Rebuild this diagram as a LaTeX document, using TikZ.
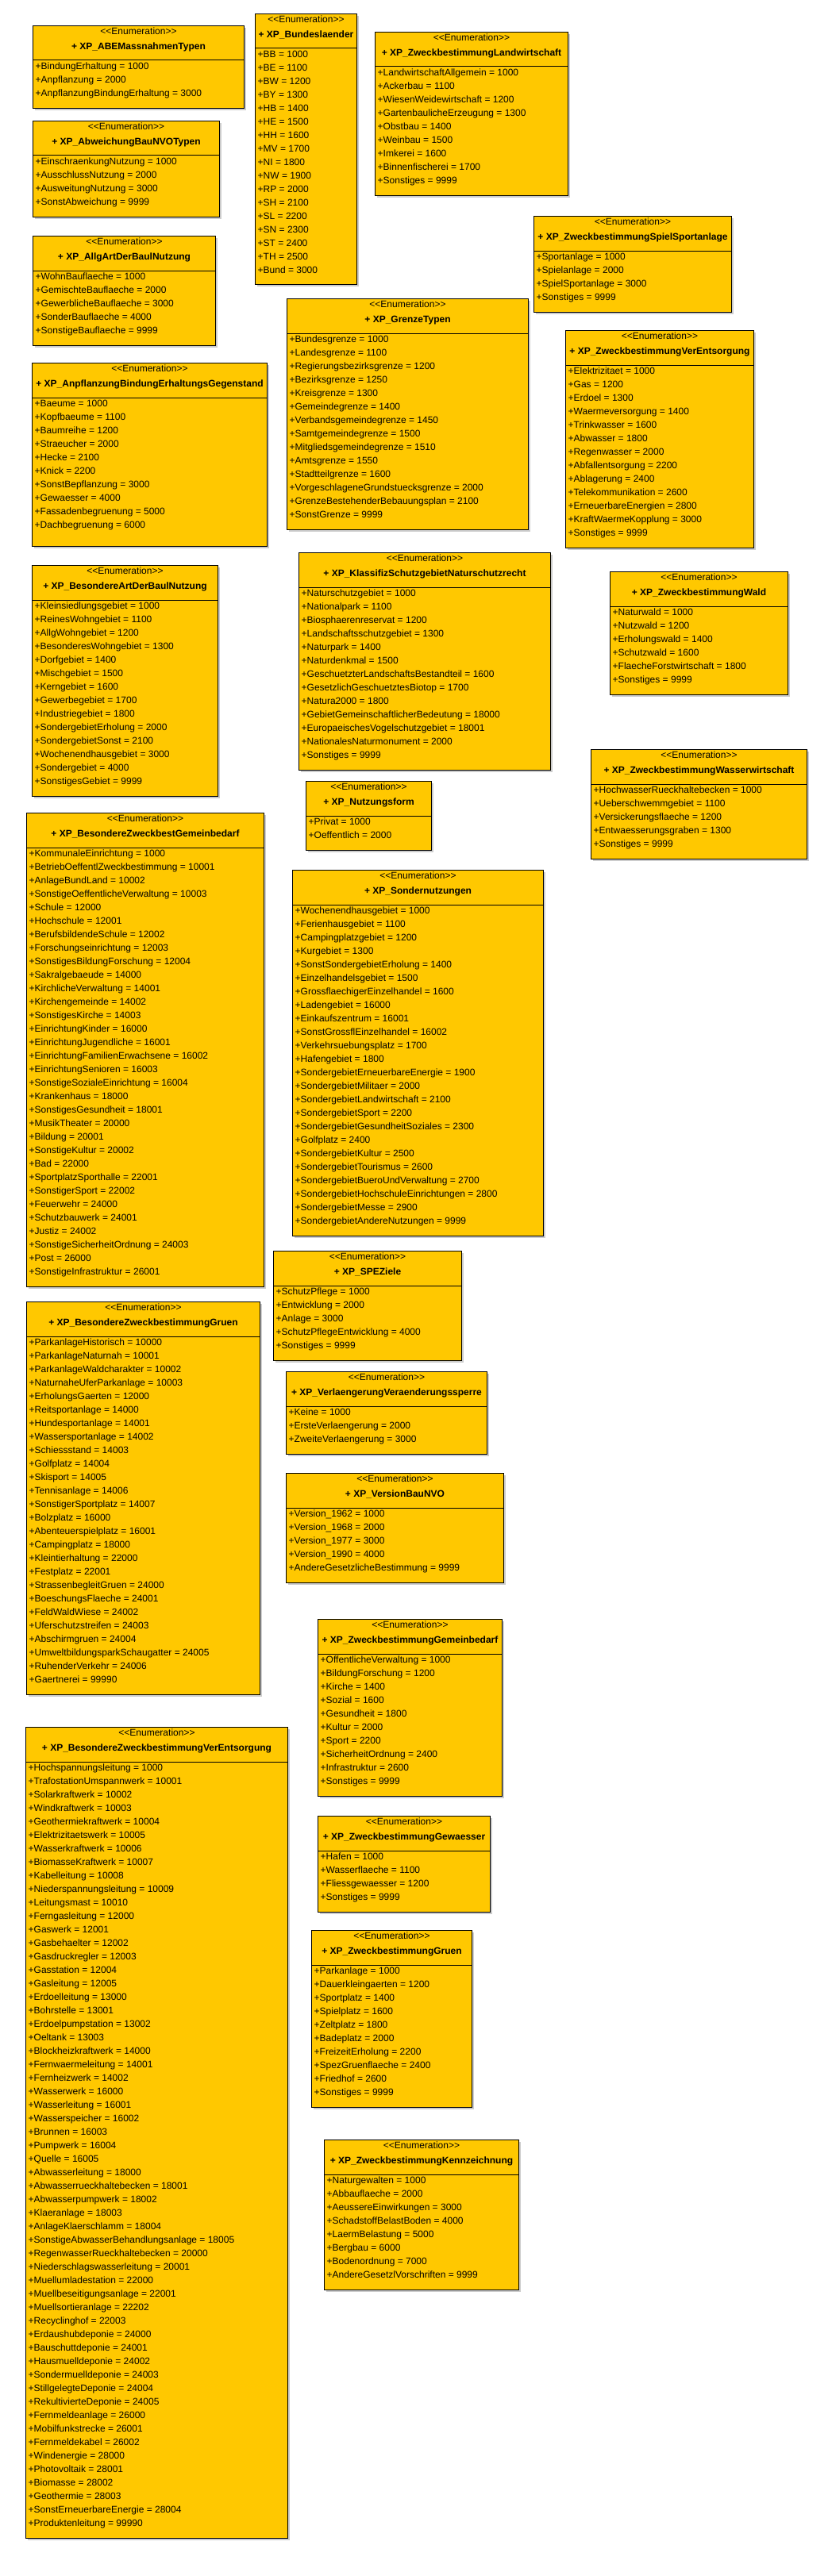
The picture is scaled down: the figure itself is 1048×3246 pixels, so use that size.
\documentclass[tikz,border=0pt]{standalone}
\usepackage{fontspec}
\setmainfont{Liberation Sans}
\usetikzlibrary{shadows}
\definecolor{enumyellow}{RGB}{255,200,0}
\tikzset{
  enumbox/.style={rectangle,draw,line width=1pt,fill=enumyellow,anchor=north west,
    drop shadow={shadow xshift=2.5pt,shadow yshift=-2.5pt,fill=black!20,opacity=1}},
  enumhead/.style={anchor=north,align=center,inner xsep=2pt,inner ysep=2.8pt,
    font=\fontsize{12}{17}\selectfont,execute at begin node=\strut},
  enumitems/.style={anchor=north west,align=left,inner xsep=3.5pt,inner ysep=2.8pt,
    font=\fontsize{12}{17}\selectfont,execute at begin node=\strut},
  enumline/.style={line width=1pt}
}
\begin{document}
\begin{tikzpicture}[x=1pt,y=-1pt]
      \useasboundingbox (0,0) rectangle (1048,3246);
      % left column
      \node[enumbox,minimum width=266,minimum height=104] (abe) at (41,32) {};
      \node[enumhead] (abe-head) at (abe.north) {{<}{<}Enumeration{>}{>}\\[2pt]\textbf{+ XP\_ABEMassnahmenTypen}};
      \node[enumitems] (abe-items) at ([yshift=-44pt]abe.north west) {+BindungErhaltung = 1000\\+Anpflanzung = 2000\\+AnpflanzungBindungErhaltung = 3000};
      \draw[enumline] (abe-items.north -| abe.west) -- (abe-items.north -| abe.east);

      \node[enumbox,minimum width=235,minimum height=121] (abweichung) at (41,152) {};
      \node[enumhead] (abweichung-head) at (abweichung.north) {{<}{<}Enumeration{>}{>}\\[2pt]\textbf{+ XP\_AbweichungBauNVOTypen}};
      \node[enumitems] (abweichung-items) at ([yshift=-44pt]abweichung.north west) {+EinschraenkungNutzung = 1000\\+AusschlussNutzung = 2000\\+AusweitungNutzung = 3000\\+SonstAbweichung = 9999};
      \draw[enumline] (abweichung-items.north -| abweichung.west) -- (abweichung-items.north -| abweichung.east);

      \node[enumbox,minimum width=230,minimum height=138] (allgart) at (41,297) {};
      \node[enumhead] (allgart-head) at (allgart.north) {{<}{<}Enumeration{>}{>}\\[2pt]\textbf{+ XP\_AllgArtDerBaulNutzung}};
      \node[enumitems] (allgart-items) at ([yshift=-44pt]allgart.north west) {+WohnBauflaeche = 1000\\+GemischteBauflaeche = 2000\\+GewerblicheBauflaeche = 3000\\+SonderBauflaeche = 4000\\+SonstigeBauflaeche = 9999};
      \draw[enumline] (allgart-items.north -| allgart.west) -- (allgart-items.north -| allgart.east);

      \node[enumbox,minimum width=296,minimum height=231] (anpflanzung) at (40,457) {};
      \node[enumhead] (anpflanzung-head) at (anpflanzung.north) {{<}{<}Enumeration{>}{>}\\[2pt]\textbf{+ XP\_AnpflanzungBindungErhaltungsGegenstand}};
      \node[enumitems] (anpflanzung-items) at ([yshift=-44pt]anpflanzung.north west) {+Baeume = 1000\\+Kopfbaeume = 1100\\+Baumreihe = 1200\\+Straeucher = 2000\\+Hecke = 2100\\+Knick = 2200\\+SonstBepflanzung = 3000\\+Gewaesser = 4000\\+Fassadenbegruenung = 5000\\+Dachbegruenung = 6000};
      \draw[enumline] (anpflanzung-items.north -| anpflanzung.west) -- (anpflanzung-items.north -| anpflanzung.east);

      \node[enumbox,minimum width=234,minimum height=291] (besart) at (40,712) {};
      \node[enumhead] (besart-head) at (besart.north) {{<}{<}Enumeration{>}{>}\\[2pt]\textbf{+ XP\_BesondereArtDerBaulNutzung}};
      \node[enumitems] (besart-items) at ([yshift=-44pt]besart.north west) {+Kleinsiedlungsgebiet = 1000\\+ReinesWohngebiet = 1100\\+AllgWohngebiet = 1200\\+BesonderesWohngebiet = 1300\\+Dorfgebiet = 1400\\+Mischgebiet = 1500\\+Kerngebiet = 1600\\+Gewerbegebiet = 1700\\+Industriegebiet = 1800\\+SondergebietErholung = 2000\\+SondergebietSonst = 2100\\+Wochenendhausgebiet = 3000\\+Sondergebiet = 4000\\+SonstigesGebiet = 9999};
      \draw[enumline] (besart-items.north -| besart.west) -- (besart-items.north -| besart.east);

      \node[enumbox,minimum width=299,minimum height=597] (gemeinbedarf) at (33,1024) {};
      \node[enumhead] (gemeinbedarf-head) at (gemeinbedarf.north) {{<}{<}Enumeration{>}{>}\\[2pt]\textbf{+ XP\_BesondereZweckbestGemeinbedarf}};
      \node[enumitems] (gemeinbedarf-items) at ([yshift=-44pt]gemeinbedarf.north west) {+KommunaleEinrichtung = 1000\\+BetriebOeffentlZweckbestimmung = 10001\\+AnlageBundLand = 10002\\+SonstigeOeffentlicheVerwaltung = 10003\\+Schule = 12000\\+Hochschule = 12001\\+BerufsbildendeSchule = 12002\\+Forschungseinrichtung = 12003\\+SonstigesBildungForschung = 12004\\+Sakralgebaeude = 14000\\+KirchlicheVerwaltung = 14001\\+Kirchengemeinde = 14002\\+SonstigesKirche = 14003\\+EinrichtungKinder = 16000\\+EinrichtungJugendliche = 16001\\+EinrichtungFamilienErwachsene = 16002\\+EinrichtungSenioren = 16003\\+SonstigeSozialeEinrichtung = 16004\\+Krankenhaus = 18000\\+SonstigesGesundheit = 18001\\+MusikTheater = 20000\\+Bildung = 20001\\+SonstigeKultur = 20002\\+Bad = 22000\\+SportplatzSporthalle = 22001\\+SonstigerSport = 22002\\+Feuerwehr = 24000\\+Schutzbauwerk = 24001\\+Justiz = 24002\\+SonstigeSicherheitOrdnung = 24003\\+Post = 26000\\+SonstigeInfrastruktur = 26001};
      \draw[enumline] (gemeinbedarf-items.north -| gemeinbedarf.west) -- (gemeinbedarf-items.north -| gemeinbedarf.east);

      \node[enumbox,minimum width=294,minimum height=495] (gruen) at (33,1640) {};
      \node[enumhead] (gruen-head) at (gruen.north) {{<}{<}Enumeration{>}{>}\\[2pt]\textbf{+ XP\_BesondereZweckbestimmungGruen}};
      \node[enumitems] (gruen-items) at ([yshift=-44pt]gruen.north west) {+ParkanlageHistorisch = 10000\\+ParkanlageNaturnah = 10001\\+ParkanlageWaldcharakter = 10002\\+NaturnaheUferParkanlage = 10003\\+ErholungsGaerten = 12000\\+Reitsportanlage = 14000\\+Hundesportanlage = 14001\\+Wassersportanlage = 14002\\+Schiessstand = 14003\\+Golfplatz = 14004\\+Skisport = 14005\\+Tennisanlage = 14006\\+SonstigerSportplatz = 14007\\+Bolzplatz = 16000\\+Abenteuerspielplatz = 16001\\+Campingplatz = 18000\\+Kleintierhaltung = 22000\\+Festplatz = 22001\\+StrassenbegleitGruen = 24000\\+BoeschungsFlaeche = 24001\\+FeldWaldWiese = 24002\\+Uferschutzstreifen = 24003\\+Abschirmgruen = 24004\\+UmweltbildungsparkSchaugatter = 24005\\+RuhenderVerkehr = 24006\\+Gaertnerei = 99990};
      \draw[enumline] (gruen-items.north -| gruen.west) -- (gruen-items.north -| gruen.east);

      \node[enumbox,minimum width=330,minimum height=1022] (verentsorgung) at (32,2176) {};
      \node[enumhead] (verentsorgung-head) at (verentsorgung.north) {{<}{<}Enumeration{>}{>}\\[2pt]\textbf{+ XP\_BesondereZweckbestimmungVerEntsorgung}};
      \node[enumitems] (verentsorgung-items) at ([yshift=-44pt]verentsorgung.north west) {+Hochspannungsleitung = 1000\\+TrafostationUmspannwerk = 10001\\+Solarkraftwerk = 10002\\+Windkraftwerk = 10003\\+Geothermiekraftwerk = 10004\\+Elektrizitaetswerk = 10005\\+Wasserkraftwerk = 10006\\+BiomasseKraftwerk = 10007\\+Kabelleitung = 10008\\+Niederspannungsleitung = 10009\\+Leitungsmast = 10010\\+Ferngasleitung = 12000\\+Gaswerk = 12001\\+Gasbehaelter = 12002\\+Gasdruckregler = 12003\\+Gasstation = 12004\\+Gasleitung = 12005\\+Erdoelleitung = 13000\\+Bohrstelle = 13001\\+Erdoelpumpstation = 13002\\+Oeltank = 13003\\+Blockheizkraftwerk = 14000\\+Fernwaermeleitung = 14001\\+Fernheizwerk = 14002\\+Wasserwerk = 16000\\+Wasserleitung = 16001\\+Wasserspeicher = 16002\\+Brunnen = 16003\\+Pumpwerk = 16004\\+Quelle = 16005\\+Abwasserleitung = 18000\\+Abwasserrueckhaltebecken = 18001\\+Abwasserpumpwerk = 18002\\+Klaeranlage = 18003\\+AnlageKlaerschlamm = 18004\\+SonstigeAbwasserBehandlungsanlage = 18005\\+RegenwasserRueckhaltebecken = 20000\\+Niederschlagswasserleitung = 20001\\+Muellumladestation = 22000\\+Muellbeseitigungsanlage = 22001\\+Muellsortieranlage = 22202\\+Recyclinghof = 22003\\+Erdaushubdeponie = 24000\\+Bauschuttdeponie = 24001\\+Hausmuelldeponie = 24002\\+Sondermuelldeponie = 24003\\+StillgelegteDeponie = 24004\\+RekultivierteDeponie = 24005\\+Fernmeldeanlage = 26000\\+Mobilfunkstrecke = 26001\\+Fernmeldekabel = 26002\\+Windenergie = 28000\\+Photovoltaik = 28001\\+Biomasse = 28002\\+Geothermie = 28003\\+SonstErneuerbareEnergie = 28004\\+Produktenleitung = 99990};
      \draw[enumline] (verentsorgung-items.north -| verentsorgung.west) -- (verentsorgung-items.north -| verentsorgung.east);

      % middle column
      \node[enumbox,minimum width=128,minimum height=341] (laender) at (321,17) {};
      \node[enumhead] (laender-head) at (laender.north) {{<}{<}Enumeration{>}{>}\\[2pt]\textbf{+ XP\_Bundeslaender}};
      \node[enumitems] (laender-items) at ([yshift=-44pt]laender.north west) {+BB = 1000\\+BE = 1100\\+BW = 1200\\+BY = 1300\\+HB = 1400\\+HE = 1500\\+HH = 1600\\+MV = 1700\\+NI = 1800\\+NW = 1900\\+RP = 2000\\+SH = 2100\\+SL = 2200\\+SN = 2300\\+ST = 2400\\+TH = 2500\\+Bund = 3000};
      \draw[enumline] (laender-items.north -| laender.west) -- (laender-items.north -| laender.east);

      \node[enumbox,minimum width=304,minimum height=291] (grenze) at (361,376) {};
      \node[enumhead] (grenze-head) at (grenze.north) {{<}{<}Enumeration{>}{>}\\[2pt]\textbf{+ XP\_GrenzeTypen}};
      \node[enumitems] (grenze-items) at ([yshift=-44pt]grenze.north west) {+Bundesgrenze = 1000\\+Landesgrenze = 1100\\+Regierungsbezirksgrenze = 1200\\+Bezirksgrenze = 1250\\+Kreisgrenze = 1300\\+Gemeindegrenze = 1400\\+Verbandsgemeindegrenze = 1450\\+Samtgemeindegrenze = 1500\\+Mitgliedsgemeindegrenze = 1510\\+Amtsgrenze = 1550\\+Stadtteilgrenze = 1600\\+VorgeschlageneGrundstuecksgrenze = 2000\\+GrenzeBestehenderBebauungsplan = 2100\\+SonstGrenze = 9999};
      \draw[enumline] (grenze-items.north -| grenze.west) -- (grenze-items.north -| grenze.east);

      \node[enumbox,minimum width=317,minimum height=274] (schutzgebiet) at (376,696) {};
      \node[enumhead] (schutzgebiet-head) at (schutzgebiet.north) {{<}{<}Enumeration{>}{>}\\[2pt]\textbf{+ XP\_KlassifizSchutzgebietNaturschutzrecht}};
      \node[enumitems] (schutzgebiet-items) at ([yshift=-44pt]schutzgebiet.north west) {+Naturschutzgebiet = 1000\\+Nationalpark = 1100\\+Biosphaerenreservat = 1200\\+Landschaftsschutzgebiet = 1300\\+Naturpark = 1400\\+Naturdenkmal = 1500\\+GeschuetzterLandschaftsBestandteil = 1600\\+GesetzlichGeschuetztesBiotop = 1700\\+Natura2000 = 1800\\+GebietGemeinschaftlicherBedeutung = 18000\\+EuropaeischesVogelschutzgebiet = 18001\\+NationalesNaturmonument = 2000\\+Sonstiges = 9999};
      \draw[enumline] (schutzgebiet-items.north -| schutzgebiet.west) -- (schutzgebiet-items.north -| schutzgebiet.east);

      \node[enumbox,minimum width=158,minimum height=87] (nutzungsform) at (385,984) {};
      \node[enumhead] (nutzungsform-head) at (nutzungsform.north) {{<}{<}Enumeration{>}{>}\\[2pt]\textbf{+ XP\_Nutzungsform}};
      \node[enumitems] (nutzungsform-items) at ([yshift=-44pt]nutzungsform.north west) {+Privat = 1000\\+Oeffentlich = 2000};
      \draw[enumline] (nutzungsform-items.north -| nutzungsform.west) -- (nutzungsform-items.north -| nutzungsform.east);

      \node[enumbox,minimum width=316,minimum height=461] (sondernutzungen) at (368,1096) {};
      \node[enumhead] (sondernutzungen-head) at (sondernutzungen.north) {{<}{<}Enumeration{>}{>}\\[2pt]\textbf{+ XP\_Sondernutzungen}};
      \node[enumitems] (sondernutzungen-items) at ([yshift=-44pt]sondernutzungen.north west) {+Wochenendhausgebiet = 1000\\+Ferienhausgebiet = 1100\\+Campingplatzgebiet = 1200\\+Kurgebiet = 1300\\+SonstSondergebietErholung = 1400\\+Einzelhandelsgebiet = 1500\\+GrossflaechigerEinzelhandel = 1600\\+Ladengebiet = 16000\\+Einkaufszentrum = 16001\\+SonstGrossflEinzelhandel = 16002\\+Verkehrsuebungsplatz = 1700\\+Hafengebiet = 1800\\+SondergebietErneuerbareEnergie = 1900\\+SondergebietMilitaer = 2000\\+SondergebietLandwirtschaft = 2100\\+SondergebietSport = 2200\\+SondergebietGesundheitSoziales = 2300\\+Golfplatz = 2400\\+SondergebietKultur = 2500\\+SondergebietTourismus = 2600\\+SondergebietBueroUndVerwaltung = 2700\\+SondergebietHochschuleEinrichtungen = 2800\\+SondergebietMesse = 2900\\+SondergebietAndereNutzungen = 9999};
      \draw[enumline] (sondernutzungen-items.north -| sondernutzungen.west) -- (sondernutzungen-items.north -| sondernutzungen.east);

      \node[enumbox,minimum width=237,minimum height=138] (speziele) at (344,1576) {};
      \node[enumhead] (speziele-head) at (speziele.north) {{<}{<}Enumeration{>}{>}\\[2pt]\textbf{+ XP\_SPEZiele}};
      \node[enumitems] (speziele-items) at ([yshift=-44pt]speziele.north west) {+SchutzPflege = 1000\\+Entwicklung = 2000\\+Anlage = 3000\\+SchutzPflegeEntwicklung = 4000\\+Sonstiges = 9999};
      \draw[enumline] (speziele-items.north -| speziele.west) -- (speziele-items.north -| speziele.east);

      \node[enumbox,minimum width=253,minimum height=104] (sperre) at (360,1728) {};
      \node[enumhead] (sperre-head) at (sperre.north) {{<}{<}Enumeration{>}{>}\\[2pt]\textbf{+ XP\_VerlaengerungVeraenderungssperre}};
      \node[enumitems] (sperre-items) at ([yshift=-44pt]sperre.north west) {+Keine = 1000\\+ErsteVerlaengerung = 2000\\+ZweiteVerlaengerung = 3000};
      \draw[enumline] (sperre-items.north -| sperre.west) -- (sperre-items.north -| sperre.east);

      \node[enumbox,minimum width=274,minimum height=138] (baunvo) at (360,1856) {};
      \node[enumhead] (baunvo-head) at (baunvo.north) {{<}{<}Enumeration{>}{>}\\[2pt]\textbf{+ XP\_VersionBauNVO}};
      \node[enumitems] (baunvo-items) at ([yshift=-44pt]baunvo.north west) {+Version\_1962 = 1000\\+Version\_1968 = 2000\\+Version\_1977 = 3000\\+Version\_1990 = 4000\\+AndereGesetzlicheBestimmung = 9999};
      \draw[enumline] (baunvo-items.north -| baunvo.west) -- (baunvo-items.north -| baunvo.east);

      \node[enumbox,minimum width=232,minimum height=223] (zgemeinbedarf) at (400,2040) {};
      \node[enumhead] (zgemeinbedarf-head) at (zgemeinbedarf.north) {{<}{<}Enumeration{>}{>}\\[2pt]\textbf{+ XP\_ZweckbestimmungGemeinbedarf}};
      \node[enumitems] (zgemeinbedarf-items) at ([yshift=-44pt]zgemeinbedarf.north west) {+OffentlicheVerwaltung = 1000\\+BildungForschung = 1200\\+Kirche = 1400\\+Sozial = 1600\\+Gesundheit = 1800\\+Kultur = 2000\\+Sport = 2200\\+SicherheitOrdnung = 2400\\+Infrastruktur = 2600\\+Sonstiges = 9999};
      \draw[enumline] (zgemeinbedarf-items.north -| zgemeinbedarf.west) -- (zgemeinbedarf-items.north -| zgemeinbedarf.east);

      \node[enumbox,minimum width=217,minimum height=121] (gewaesser) at (400,2288) {};
      \node[enumhead] (gewaesser-head) at (gewaesser.north) {{<}{<}Enumeration{>}{>}\\[2pt]\textbf{+ XP\_ZweckbestimmungGewaesser}};
      \node[enumitems] (gewaesser-items) at ([yshift=-44pt]gewaesser.north west) {+Hafen = 1000\\+Wasserflaeche = 1100\\+Fliessgewaesser = 1200\\+Sonstiges = 9999};
      \draw[enumline] (gewaesser-items.north -| gewaesser.west) -- (gewaesser-items.north -| gewaesser.east);

      \node[enumbox,minimum width=202,minimum height=223] (zgruen) at (392,2432) {};
      \node[enumhead] (zgruen-head) at (zgruen.north) {{<}{<}Enumeration{>}{>}\\[2pt]\textbf{+ XP\_ZweckbestimmungGruen}};
      \node[enumitems] (zgruen-items) at ([yshift=-44pt]zgruen.north west) {+Parkanlage = 1000\\+Dauerkleingaerten = 1200\\+Sportplatz = 1400\\+Spielplatz = 1600\\+Zeltplatz = 1800\\+Badeplatz = 2000\\+FreizeitErholung = 2200\\+SpezGruenflaeche = 2400\\+Friedhof = 2600\\+Sonstiges = 9999};
      \draw[enumline] (zgruen-items.north -| zgruen.west) -- (zgruen-items.north -| zgruen.east);

      \node[enumbox,minimum width=245,minimum height=189] (kennzeichnung) at (408,2696) {};
      \node[enumhead] (kennzeichnung-head) at (kennzeichnung.north) {{<}{<}Enumeration{>}{>}\\[2pt]\textbf{+ XP\_ZweckbestimmungKennzeichnung}};
      \node[enumitems] (kennzeichnung-items) at ([yshift=-44pt]kennzeichnung.north west) {+Naturgewalten = 1000\\+Abbauflaeche = 2000\\+AeussereEinwirkungen = 3000\\+SchadstoffBelastBoden = 4000\\+LaermBelastung = 5000\\+Bergbau = 6000\\+Bodenordnung = 7000\\+AndereGesetzlVorschriften = 9999};
      \draw[enumline] (kennzeichnung-items.north -| kennzeichnung.west) -- (kennzeichnung-items.north -| kennzeichnung.east);

      % right column
      \node[enumbox,minimum width=243,minimum height=206] (landwirtschaft) at (472,40) {};
      \node[enumhead] (landwirtschaft-head) at (landwirtschaft.north) {{<}{<}Enumeration{>}{>}\\[2pt]\textbf{+ XP\_ZweckbestimmungLandwirtschaft}};
      \node[enumitems] (landwirtschaft-items) at ([yshift=-44pt]landwirtschaft.north west) {+LandwirtschaftAllgemein = 1000\\+Ackerbau = 1100\\+WiesenWeidewirtschaft = 1200\\+GartenbaulicheErzeugung = 1300\\+Obstbau = 1400\\+Weinbau = 1500\\+Imkerei = 1600\\+Binnenfischerei = 1700\\+Sonstiges = 9999};
      \draw[enumline] (landwirtschaft-items.north -| landwirtschaft.west) -- (landwirtschaft-items.north -| landwirtschaft.east);

      \node[enumbox,minimum width=249,minimum height=121] (spielsport) at (672,272) {};
      \node[enumhead] (spielsport-head) at (spielsport.north) {{<}{<}Enumeration{>}{>}\\[2pt]\textbf{+ XP\_ZweckbestimmungSpielSportanlage}};
      \node[enumitems] (spielsport-items) at ([yshift=-44pt]spielsport.north west) {+Sportanlage = 1000\\+Spielanlage = 2000\\+SpielSportanlage = 3000\\+Sonstiges = 9999};
      \draw[enumline] (spielsport-items.north -| spielsport.west) -- (spielsport-items.north -| spielsport.east);

      \node[enumbox,minimum width=237,minimum height=274] (zverentsorgung) at (712,416) {};
      \node[enumhead] (zverentsorgung-head) at (zverentsorgung.north) {{<}{<}Enumeration{>}{>}\\[2pt]\textbf{+ XP\_ZweckbestimmungVerEntsorgung}};
      \node[enumitems] (zverentsorgung-items) at ([yshift=-44pt]zverentsorgung.north west) {+Elektrizitaet = 1000\\+Gas = 1200\\+Erdoel = 1300\\+Waermeversorgung = 1400\\+Trinkwasser = 1600\\+Abwasser = 1800\\+Regenwasser = 2000\\+Abfallentsorgung = 2200\\+Ablagerung = 2400\\+Telekommunikation = 2600\\+ErneuerbareEnergien = 2800\\+KraftWaermeKopplung = 3000\\+Sonstiges = 9999};
      \draw[enumline] (zverentsorgung-items.north -| zverentsorgung.west) -- (zverentsorgung-items.north -| zverentsorgung.east);

      \node[enumbox,minimum width=224,minimum height=155] (wald) at (768,720) {};
      \node[enumhead] (wald-head) at (wald.north) {{<}{<}Enumeration{>}{>}\\[2pt]\textbf{+ XP\_ZweckbestimmungWald}};
      \node[enumitems] (wald-items) at ([yshift=-44pt]wald.north west) {+Naturwald = 1000\\+Nutzwald = 1200\\+Erholungswald = 1400\\+Schutzwald = 1600\\+FlaecheForstwirtschaft = 1800\\+Sonstiges = 9999};
      \draw[enumline] (wald-items.north -| wald.west) -- (wald-items.north -| wald.east);

      \node[enumbox,minimum width=272,minimum height=138] (wasser) at (744,944) {};
      \node[enumhead] (wasser-head) at (wasser.north) {{<}{<}Enumeration{>}{>}\\[2pt]\textbf{+ XP\_ZweckbestimmungWasserwirtschaft}};
      \node[enumitems] (wasser-items) at ([yshift=-44pt]wasser.north west) {+HochwasserRueckhaltebecken = 1000\\+Ueberschwemmgebiet = 1100\\+Versickerungsflaeche = 1200\\+Entwaesserungsgraben = 1300\\+Sonstiges = 9999};
      \draw[enumline] (wasser-items.north -| wasser.west) -- (wasser-items.north -| wasser.east);
    \end{tikzpicture}
\end{document}
